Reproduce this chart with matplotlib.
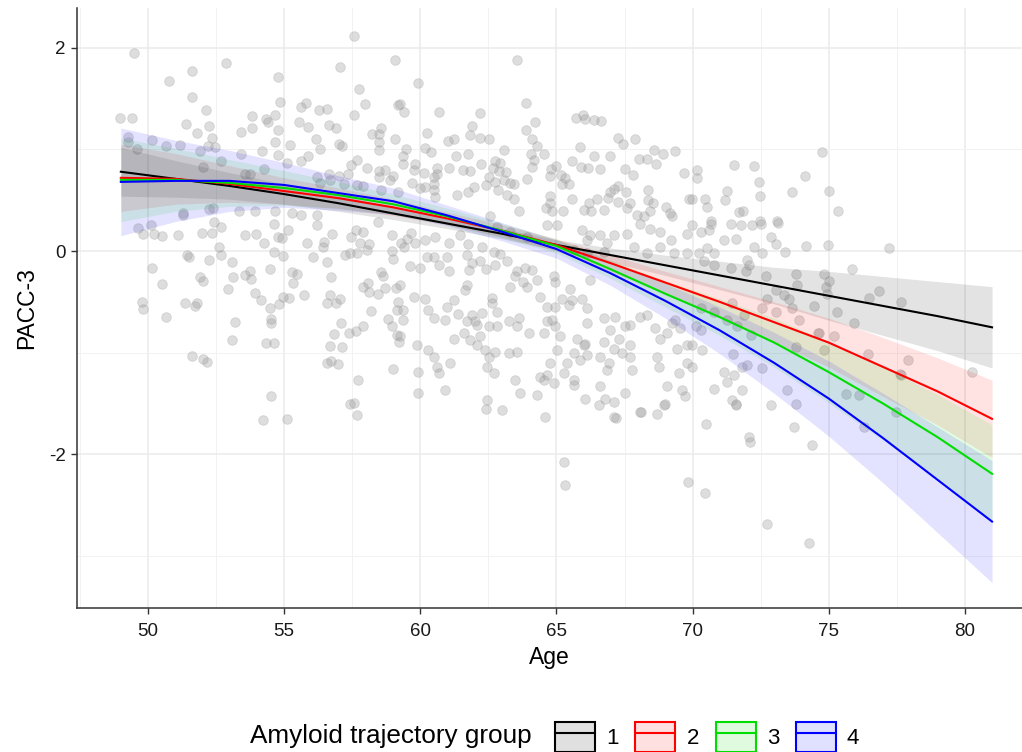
import numpy as np
import matplotlib.pyplot as plt
from matplotlib.patches import Patch
from matplotlib.lines import Line2D

plt.rcParams["font.family"] = ["Liberation Sans", "DejaVu Sans"]
plt.rcParams["axes.unicode_minus"] = False

# individual participants: (age, PACC-3)
scatter_pts = [
    # upper left
    (57.58, 2.11), (49.49, 1.95), (52.86, 1.85), (51.61, 1.77), (50.78, 1.67), (59.07, 1.88), (57.04, 1.81),
    (54.76, 1.71), (57.75, 1.59), (51.61, 1.51), (54.83, 1.47), (55.79, 1.46), (55.60, 1.42), (57.95, 1.45),
    (59.19, 1.44), (52.13, 1.39), (56.28, 1.39), (56.59, 1.40), (48.97, 1.31), (49.40, 1.31), (53.83, 1.33),
    (54.65, 1.34), (54.32, 1.30), (54.40, 1.27), (57.56, 1.34), (51.39, 1.25), (52.24, 1.23), (53.83, 1.21),
    (53.43, 1.17), (54.79, 1.19), (55.54, 1.27), (55.88, 1.22), (56.65, 1.24), (56.92, 1.21), (51.80, 1.16),
    (58.54, 1.21), (58.23, 1.15), (58.50, 1.15), (52.34, 1.11), (56.17, 1.10), (54.68, 1.07), (55.22, 1.04),
    (56.30, 1.00), (57.00, 1.05), (57.13, 1.03), (58.48, 1.07), (58.48, 0.99), (59.08, 1.10), (50.16, 1.09),
    (50.65, 1.03), (51.17, 1.04), (49.25, 1.12), (49.27, 1.07), (49.58, 1.00), (51.90, 0.98), (52.19, 1.03),
    (52.47, 1.02), (53.43, 0.95), (54.20, 0.98), (54.76, 0.94), (55.10, 0.87), (55.63, 0.89), (55.88, 0.93),
    (57.47, 0.85), (57.68, 0.90), (58.04, 0.82), (58.47, 0.79), (58.72, 0.80), (59.00, 0.74), (54.27, 0.81),
    (52.68, 0.89), (52.01, 0.83), (53.56, 0.76), (53.75, 0.76), (56.64, 0.76), (57.01, 0.74), (57.36, 0.76),
    (57.18, 0.66), (57.67, 0.65), (57.89, 0.64), (56.33, 0.67), (58.54, 0.60), (59.19, 0.58), (51.30, 0.37),
    (52.23, 0.41), (52.40, 0.42), (53.34, 0.39), (53.93, 0.39), (54.67, 0.39), (55.28, 0.37), (55.62, 0.35),
    (56.20, 0.35), (56.20, 0.73), (56.70, 0.70), (58.50, 0.73), (58.90, 0.70), (59.70, 0.67), (60.00, 0.62),
    (58.46, 0.29), (59.67, 0.18), (60.18, 0.11), (59.30, 0.08), (51.29, 0.35), (54.78, 0.14),
    # upper middle
    (63.54, 1.88), (59.91, 1.65), (59.26, 1.45), (59.41, 1.37), (63.90, 1.46), (60.68, 1.37), (62.18, 1.36),
    (61.89, 1.23), (64.20, 1.27), (63.89, 1.19), (60.25, 1.16), (61.81, 1.14), (61.00, 1.08), (61.22, 1.10),
    (62.21, 1.11), (62.54, 1.10), (64.10, 1.10), (65.73, 1.31), (65.96, 1.34), (66.06, 1.30), (66.37, 1.29),
    (66.63, 1.28), (67.25, 1.11), (67.89, 1.10), (67.45, 1.05), (65.88, 1.02), (64.27, 1.03), (63.07, 0.99),
    (64.08, 0.95), (64.16, 0.90), (64.54, 0.95), (60.18, 1.01), (60.40, 0.97), (59.47, 1.00), (59.38, 0.93),
    (59.38, 0.86), (61.32, 0.93), (61.74, 0.95), (61.04, 0.82), (60.61, 0.82), (60.61, 0.76), (59.81, 0.86),
    (59.75, 0.80), (60.15, 0.77), (61.56, 0.80), (61.83, 0.79), (62.23, 0.86), (62.73, 0.89), (62.94, 0.87),
    (62.68, 0.82), (62.90, 0.79), (63.16, 0.78), (64.10, 0.83), (62.53, 0.73), (62.75, 0.68), (63.08, 0.70),
    (63.30, 0.67), (63.44, 0.66), (63.93, 0.71), (64.79, 0.81), (64.98, 0.84), (64.75, 0.74), (65.17, 0.75),
    (65.30, 0.72), (65.19, 0.66), (65.47, 0.66), (65.57, 0.89), (65.89, 0.83), (66.16, 0.82), (66.39, 0.93),
    (66.59, 0.81), (66.98, 0.93), (67.50, 0.81), (67.81, 0.75), (68.02, 0.91), (68.33, 0.91), (68.60, 0.99),
    (68.92, 0.95), (68.65, 0.86), (69.37, 0.98), (69.70, 0.77), (69.86, 0.51), (68.37, 0.60), (68.38, 0.50),
    (68.55, 0.47), (69.03, 0.43), (69.16, 0.37), (67.25, 0.64), (67.13, 0.61), (66.98, 0.58), (66.88, 0.52),
    (67.25, 0.48), (67.57, 0.58), (67.69, 0.47), (67.58, 0.42), (66.49, 0.51), (66.20, 0.47), (66.02, 0.40),
    (66.27, 0.39), (66.76, 0.40), (65.56, 0.51), (64.77, 0.54), (64.77, 0.47), (64.60, 0.42), (64.84, 0.39),
    (65.23, 0.39), (63.64, 0.39), (63.43, 0.51), (62.85, 0.60), (63.18, 0.55), (62.41, 0.65), (61.98, 0.63),
    (61.75, 0.58), (61.34, 0.55), (60.49, 0.73), (60.49, 0.66), (60.49, 0.60), (60.17, 0.63), (60.55, 0.53),
    (62.57, 0.34), (67.96, 0.35), (68.23, 0.34), (68.45, 0.39), (69.25, 0.34),
    # upper right
    (74.77, 0.97), (70.18, 0.80), (70.18, 0.72), (71.52, 0.85), (72.26, 0.84), (74.13, 0.74), (72.45, 0.68),
    (71.25, 0.59), (73.67, 0.58), (75.02, 0.59), (72.47, 0.54), (69.99, 0.51), (70.46, 0.51), (71.18, 0.50),
    (70.54, 0.43), (71.71, 0.38), (71.85, 0.39), (75.35, 0.39), (72.48, 0.30), (73.09, 0.30), (70.67, 0.30),
    # lower left
    (49.64, 0.23), (50.10, 0.26), (49.83, 0.17), (50.22, 0.17), (50.52, 0.15), (51.09, 0.16), (51.97, 0.18),
    (52.36, 0.18), (52.68, 0.24), (52.42, 0.29), (53.56, 0.16), (53.97, 0.17), (54.26, 0.08), (54.63, 0.27),
    (54.91, 0.13), (55.14, 0.21), (54.63, -0.01), (54.95, -0.05), (52.61, 0.04), (52.68, -0.04), (51.42, -0.04),
    (51.49, -0.06), (52.25, -0.09), (53.07, -0.11), (50.13, -0.17), (50.50, -0.32), (51.91, -0.26), (52.01, -0.29),
    (52.95, -0.37), (53.13, -0.26), (53.56, -0.24), (53.75, -0.20), (53.78, -0.27), (54.48, -0.18), (53.93, -0.41),
    (54.15, -0.48), (54.48, -0.56), (54.81, -0.52), (54.97, -0.45), (55.19, -0.46), (55.34, -0.31), (55.28, -0.21),
    (55.46, -0.23), (55.74, -0.43), (49.76, -0.50), (49.80, -0.57), (50.66, -0.65), (51.36, -0.51), (51.73, -0.54),
    (51.79, -0.51), (53.21, -0.70), (53.07, -0.87), (54.51, -0.67), (54.51, -0.71), (54.32, -0.90), (54.63, -0.90),
    (51.60, -1.03), (52.03, -1.06), (52.15, -1.09), (54.51, -1.43), (55.85, 0.08), (56.04, -0.06), (56.42, 0.04),
    (56.47, 0.09), (56.21, 0.26), (56.75, 0.17), (56.58, -0.11), (56.71, -0.26), (56.69, -0.43), (56.57, -0.51),
    (56.90, -0.51), (57.06, -0.47), (57.08, -0.71), (56.84, -0.82), (56.69, -0.93), (57.14, -0.94), (56.57, -1.10),
    (56.72, -1.08), (56.99, -1.11), (57.37, -0.81), (57.62, -0.79), (57.89, -0.74), (57.71, -1.27), (57.42, -1.50),
    (57.57, -1.49), (57.69, -1.61), (57.24, -0.04), (57.40, -0.02), (57.69, -0.02), (58.04, 0.01), (57.45, 0.14),
    (57.77, 0.08), (57.88, 0.19), (58.11, 0.07), (57.64, 0.21), (58.96, 0.16), (58.96, 0.00), (58.99, -0.08),
    (57.91, -0.35), (58.07, -0.31), (58.12, -0.40), (58.44, -0.42), (58.69, -0.36), (58.56, -0.21), (58.62, -0.25),
    (59.11, -0.36), (59.18, -0.50), (58.20, -0.59), (58.81, -0.67), (58.96, -0.74), (59.14, -0.83), (59.20, -0.89),
    (58.98, -1.16), (59.14, -0.58), (54.24, -1.66), (55.10, -1.65),
    # lower middle
    (59.41, 0.04), (59.81, 0.08), (59.51, 0.12), (60.55, 0.14), (61.06, 0.08), (61.47, 0.16), (61.75, 0.07),
    (62.26, 0.04), (62.69, -0.01), (62.94, -0.03), (59.63, -0.15), (59.99, -0.17), (60.24, -0.06), (60.49, -0.06),
    (60.67, -0.14), (60.98, -0.06), (61.04, -0.20), (61.71, -0.04), (61.77, -0.19), (61.89, -0.12), (62.20, -0.10),
    (62.42, -0.18), (62.75, -0.14), (63.18, -0.10), (63.55, -0.20), (63.86, -0.17), (64.10, -0.19), (63.49, -0.25),
    (63.79, -0.30), (63.92, -0.35), (63.30, -0.35), (64.28, -0.28), (64.41, -0.45), (64.90, -0.25), (64.96, -0.30),
    (65.51, -0.37), (65.57, -0.48), (65.94, -0.47), (66.25, -0.28), (66.12, -0.56), (65.45, -0.53), (65.20, -0.47),
    (64.65, -0.55), (64.96, -0.55), (59.26, -0.33), (59.75, -0.45), (60.18, -0.47), (59.38, -0.58), (59.38, -0.68),
    (60.30, -0.58), (60.49, -0.66), (60.98, -0.55), (61.22, -0.48), (61.65, -0.38), (61.71, -0.33), (61.40, -0.62),
    (61.89, -0.63), (62.26, -0.61), (62.63, -0.51), (62.63, -0.46), (62.81, -0.60), (62.02, -0.69), (62.08, -0.73),
    (62.51, -0.74), (62.81, -0.74), (63.24, -0.69), (63.55, -0.74), (63.61, -0.66), (63.98, -0.81), (64.53, -0.81),
    (64.65, -0.69), (64.96, -0.74), (64.84, -0.68), (65.14, -0.84), (65.76, -0.86), (66.06, -0.91), (66.12, -0.71),
    (66.74, -0.66), (66.98, -0.78), (67.16, -0.65), (67.29, -0.86), (67.53, -0.74), (67.72, -0.73), (66.74, -0.89),
    (67.10, -0.96), (67.41, -1.00), (67.72, -0.92), (68.08, -0.65), (68.33, -0.63), (68.63, -0.76), (68.82, -0.86),
    (69.06, -0.81), (69.25, -0.71), (69.37, -0.68), (69.55, -0.76), (69.80, -0.92), (69.43, -0.96), (68.76, -1.14),
    (68.70, -1.04), (69.49, -1.20), (69.80, -1.10), (69.62, -1.37), (69.74, -1.43), (69.06, -1.33), (68.94, -1.51),
    (68.70, -1.60), (68.08, -1.58), (67.78, -1.17), (67.72, -1.04), (67.53, -1.40), (67.10, -1.48), (66.80, -1.45),
    (66.55, -1.51), (66.61, -1.33), (66.86, -1.17), (66.92, -1.10), (66.61, -1.04), (66.12, -1.02), (65.63, -1.00),
    (65.88, -1.07), (65.39, -1.10), (65.26, -1.20), (65.63, -1.32), (65.63, -1.27), (66.06, -1.45), (66.00, -0.92),
    (67.10, -1.63), (65.02, -0.97), (64.77, -1.10), (64.65, -1.22), (64.90, -1.30), (64.41, -1.24), (64.53, -1.27),
    (64.28, -1.42), (64.59, -1.63), (63.67, -1.40), (63.49, -1.27), (63.24, -1.00), (63.55, -0.99), (62.69, -1.20),
    (62.45, -1.14), (62.51, -1.04), (62.39, -0.97), (62.75, -0.99), (62.08, -0.92), (62.20, -0.84), (62.45, -1.46),
    (62.42, -1.55), (63.00, -1.56), (61.83, -0.87), (61.59, -0.81), (61.22, -0.86), (61.10, -1.10), (60.91, -1.37),
    (60.61, -1.14), (60.67, -1.20), (60.49, -1.04), (60.30, -0.97), (59.93, -1.19), (59.93, -1.40), (59.87, -0.92),
    (59.26, -0.84), (60.91, -0.68), (61.71, -0.69), (62.81, 0.24), (63.30, 0.19), (63.92, 0.14), (64.65, 0.26),
    (65.02, 0.26), (65.94, 0.21), (66.25, 0.16), (66.61, 0.16), (67.10, 0.16), (67.59, 0.17), (68.08, 0.27),
    (68.45, 0.22), (68.82, 0.19), (69.19, 0.11), (69.80, 0.17), (66.12, 0.11), (65.63, 0.01), (66.86, 0.08),
    (67.84, 0.04), (68.33, -0.02), (68.82, 0.04), (69.31, -0.02), (69.80, -0.02), (66.12, -0.02), (66.74, -0.01),
    (65.26, -2.07), (65.33, -2.30),
    # lower right
    (69.99, 0.26), (70.67, 0.27), (71.40, 0.27), (71.77, 0.26), (72.20, 0.26), (72.50, 0.27), (73.12, 0.28),
    (70.30, 0.19), (70.60, 0.21), (71.16, 0.11), (71.58, 0.12), (72.26, 0.04), (72.56, -0.02), (72.87, 0.14),
    (73.06, 0.07), (73.39, -0.01), (74.16, 0.05), (74.99, 0.06), (77.22, 0.03), (70.24, -0.02), (70.54, 0.03),
    (70.79, -0.02), (70.42, -0.10), (70.79, -0.14), (71.40, -0.17), (72.01, -0.09), (72.07, -0.14), (71.95, -0.20),
    (72.69, -0.25), (73.79, -0.23), (74.81, -0.23), (75.02, -0.29), (74.89, -0.35), (75.84, -0.18), (76.85, -0.39),
    (76.49, -0.46), (77.65, -0.50), (74.95, -0.42), (74.46, -0.54), (73.85, -0.33), (73.55, -0.47), (73.36, -0.43),
    (73.05, -0.38), (72.75, -0.47), (72.56, -0.56), (73.05, -0.60), (73.67, -0.56), (73.91, -0.68), (75.32, -0.60),
    (75.93, -0.71), (74.65, -0.81), (75.20, -0.84), (73.79, -0.94), (74.83, -0.97), (76.43, -1.01), (77.90, -1.07),
    (77.65, -1.22), (80.28, -1.19), (72.14, -0.83), (71.89, -0.63), (71.46, -0.51), (71.28, -0.68), (71.65, -0.74),
    (70.79, -0.60), (70.30, -0.56), (70.11, -0.74), (70.30, -0.78), (69.99, -0.92), (70.36, -0.97), (69.99, -1.14),
    (71.50, -1.01), (71.83, -1.14), (72.01, -1.12), (72.56, -1.15), (71.16, -1.19), (71.52, -1.22), (71.28, -1.29),
    (70.79, -1.36), (71.83, -1.37), (71.46, -1.46), (71.58, -1.50), (72.87, -1.51), (73.48, -1.37), (73.79, -1.50),
    (75.63, -1.41), (76.12, -1.42), (69.84, -2.27), (70.46, -2.38), (72.75, -2.68), (74.28, -2.87), (72.07, -1.83),
    (72.11, -1.88), (73.73, -1.73), (74.40, -1.91), (70.48, -1.70), (76.30, -1.73), (67.17, -1.64), (68.12, -1.58),
    (68.97, -1.50), (71.58, -1.51), (77.47, -1.58), (77.62, -1.21), (74.61, -0.81),
]

# fitted PACC-3 trajectories by amyloid group, with half-width of the 95% band
fit_age = [49, 51, 53, 55, 57, 59, 61, 63, 65, 67, 69, 71, 73, 75, 77, 79, 81]
fit_g1 = [0.78, 0.71, 0.64, 0.56, 0.47, 0.37, 0.27, 0.17, 0.06, -0.04, -0.14, -0.24, -0.34, -0.44, -0.54, -0.64, -0.75]
fit_g2 = [0.72, 0.71, 0.66, 0.59, 0.52, 0.43, 0.32, 0.20, 0.06, -0.12, -0.31, -0.50, -0.70, -0.90, -1.14, -1.38, -1.65]
fit_g3 = [0.70, 0.70, 0.67, 0.62, 0.55, 0.46, 0.34, 0.20, 0.05, -0.18, -0.42, -0.65, -0.90, -1.19, -1.50, -1.83, -2.19]
fit_g4 = [0.68, 0.69, 0.69, 0.65, 0.57, 0.49, 0.35, 0.19, 0.02, -0.22, -0.49, -0.78, -1.10, -1.45, -1.84, -2.25, -2.66]
ci_g1 = [0.24, 0.18, 0.13, 0.10, 0.08, 0.06, 0.05, 0.05, 0.05, 0.07, 0.10, 0.14, 0.18, 0.24, 0.29, 0.34, 0.40]
ci_g2 = [0.33, 0.25, 0.18, 0.13, 0.10, 0.08, 0.06, 0.06, 0.06, 0.08, 0.11, 0.15, 0.20, 0.24, 0.29, 0.33, 0.38]
ci_g3 = [0.41, 0.31, 0.23, 0.17, 0.13, 0.10, 0.08, 0.07, 0.07, 0.09, 0.13, 0.18, 0.24, 0.30, 0.36, 0.42, 0.48]
ci_g4 = [0.53, 0.40, 0.30, 0.22, 0.17, 0.13, 0.10, 0.09, 0.09, 0.12, 0.17, 0.23, 0.30, 0.37, 0.44, 0.52, 0.60]

groups = ["1", "2", "3", "4"]
colors = ["black", "#ff0000", "#00dd00", "#0000ff"]
fits = [fit_g1, fit_g2, fit_g3, fit_g4]
cis = [ci_g1, ci_g2, ci_g3, ci_g4]

fig = plt.figure(figsize=(10.22, 7.52), dpi=100)
ax = fig.add_axes([77 / 1022, 1 - 608 / 752, 1 - 77 / 1022, 600 / 752])

pts = np.array(scatter_pts)
ax.scatter(pts[:, 0], pts[:, 1], s=48, color="#9a9a9a", alpha=0.33, linewidths=0.6, zorder=2)

x = np.array(fit_age)
for fit, ci, col in zip(fits, cis, colors):
    fit = np.array(fit)
    ci = np.array(ci)
    ax.fill_between(x, fit - ci, fit + ci, color=col, alpha=0.11, linewidth=0, zorder=3)
for fit, col in zip(fits, colors):
    ax.plot(x, fit, color=col, linewidth=1.5, zorder=4)

ax.set_xlim(47.39, 82.1)
ax.set_ylim(-3.51, 2.39)
ax.set_xticks([50, 55, 60, 65, 70, 75, 80])
ax.set_xticks([47.5, 52.5, 57.5, 62.5, 67.5, 72.5, 77.5], minor=True)
ax.set_yticks([-2, 0, 2])
ax.set_yticks([-3, -1, 1], minor=True)
ax.grid(which="major", color="#ebebeb", linewidth=1.1, zorder=0)
ax.grid(which="minor", color="#f2f2f2", linewidth=0.7, zorder=0)
ax.set_axisbelow(True)
ax.tick_params(which="major", length=4, width=1, color="#333333", labelsize=13.5, labelcolor="#1a1a1a")
ax.tick_params(axis="x", which="major", pad=7)
ax.tick_params(axis="y", which="major", pad=4)
ax.tick_params(which="minor", length=0)
for side in ["top", "right"]:
    ax.spines[side].set_visible(False)
for side in ["left", "bottom"]:
    ax.spines[side].set_color("#333333")
    ax.spines[side].set_linewidth(1.1)

ax.set_xlabel("Age", fontsize=16.5, labelpad=4)
ax.set_ylabel("PACC-3", fontsize=16.5, labelpad=8)

handles = []
for col in colors:
    box = Patch(facecolor=col, alpha=0.12, edgecolor="none")
    edge = Patch(facecolor="none", edgecolor=col, linewidth=1.5)
    line = Line2D([], [], color=col, linewidth=1.5)
    handles.append((box, edge, line))
fig.text(250 / 1022, 1 - 736 / 752, "Amyloid trajectory group", fontsize=18.8, ha="left", va="center")
fig.legend(handles, groups, loc="center left", bbox_to_anchor=(544 / 1022, 1 - 737 / 752),
           ncol=4, frameon=False, fontsize=16, handlelength=1.8, handleheight=1.7,
           handletextpad=0.5, columnspacing=0.75, borderpad=0)

fig.savefig("out.png", dpi=100)
